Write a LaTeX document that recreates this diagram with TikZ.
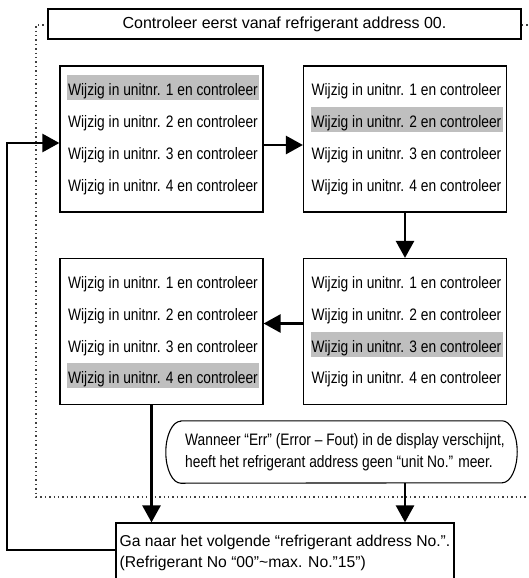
\documentclass[tikz,border=0pt]{standalone}
\usepackage{fontspec}
\setmainfont{Liberation Sans}
\newfontfamily\narrowfont[FakeStretch=0.83]{Liberation Sans}
\usetikzlibrary{arrows.meta,calc}
\begin{document}
\begin{tikzpicture}[x=1pt,y=-1pt,
  ubox/.style={draw,line width=1.2pt,minimum width=203pt,minimum height=146pt,inner sep=0pt},
  row/.style={inner sep=0pt,minimum width=192pt,minimum height=25pt,text height=16pt,text depth=0pt,
    font=\narrowfont\fontsize{16.6}{18}\selectfont},
  arr/.style={line width=2.6pt,-{Triangle[length=17pt,width=18pt]}},
  dots/.style={line width=1.4pt,black!75,dash pattern=on 1.4pt off 3pt},
  thinbox/.style={draw,line width=1.2pt,inner sep=0pt}
]
\useasboundingbox (0,0) rectangle (528,578);

% dotted frame
\draw[dots] (532,25) -- (36,25) -- (36,497) -- (532,497);

% top box
\node[thinbox,fill=white,minimum width=473pt,minimum height=30pt,
  font=\fontsize{16}{18}\selectfont] (top) at (284.5,24) {Controleer eerst vanaf refrigerant address 00.};

% four unit boxes
\node[ubox] (b1) at (161.5,139) {};
\node[ubox] (b2) at (405,139) {};
\node[ubox] (b3) at (161.5,331.5) {};
\node[ubox] (b4) at (405,331.5) {};

\foreach \bx/\h in {b1/1,b2/2,b3/4,b4/3} {
  \foreach \i/\dy in {1/22.5,2/54.3,3/86.1,4/117.9} {
    \ifnum\i=\h\relax\def\rc{gray!50}\else\def\rc{none}\fi
    \node[row,fill=\rc] (\bx-\i) at ($(\bx.north)+(1.5,\dy)$) {Wijzig in unitnr. \i{} en controleer};
  }
}

% callout
\node[minimum width=351pt,minimum height=62pt,inner sep=0pt] (call) at (341.5,452) {};
\draw[line width=1.1pt] ([xshift=15pt]call.north west) -- ([xshift=-15pt]call.north east)
  arc[start angle=90,end angle=-90,x radius=15pt,y radius=31pt]
  -- ([xshift=15pt]call.south west)
  arc[start angle=270,end angle=90,x radius=15pt,y radius=31pt] -- cycle;
\node[inner sep=0pt,align=left,font=\narrowfont\fontsize{16.6}{22}\selectfont] (calltxt)
  at ($(call.center)+(3.5,0)$) {Wanneer “Err” (Error – Fout) in de display verschijnt,\\heeft het refrigerant address geen “unit No.” meer.};

% bottom box
\node[thinbox,fill=white,minimum width=338pt,minimum height=67pt] (bot) at (285,556.5) {};
\node[inner sep=0pt,anchor=north west,align=left,font=\fontsize{15.7}{21}\selectfont] (bottxt)
  at ($(bot.north west)+(4,12.5)$) {Ga naar het volgende “refrigerant address No.”.\\(Refrigerant No “00”\textasciitilde max. No.”15”)};

% connectors
\draw[arr] ([yshift=-6pt]b1.east) -- ([yshift=-6pt]b2.west);
\draw[arr] (b2.south) -- (b4.north);
\draw[arr] ([yshift=8pt]b4.west) -- ([yshift=8pt]b3.east);
\coordinate (c3) at ([xshift=-10pt]b3.south);
\draw[arr] (c3) -- (c3 |- bot.north);
\draw[arr] (call.south -| b4.south) -- (b4.south |- bot.north);
\coordinate (fb) at (7,300);
\draw[arr] ([yshift=6.5pt]bot.west) -| (fb) |- ([yshift=-4pt]b1.west);
\end{tikzpicture}
\end{document}
